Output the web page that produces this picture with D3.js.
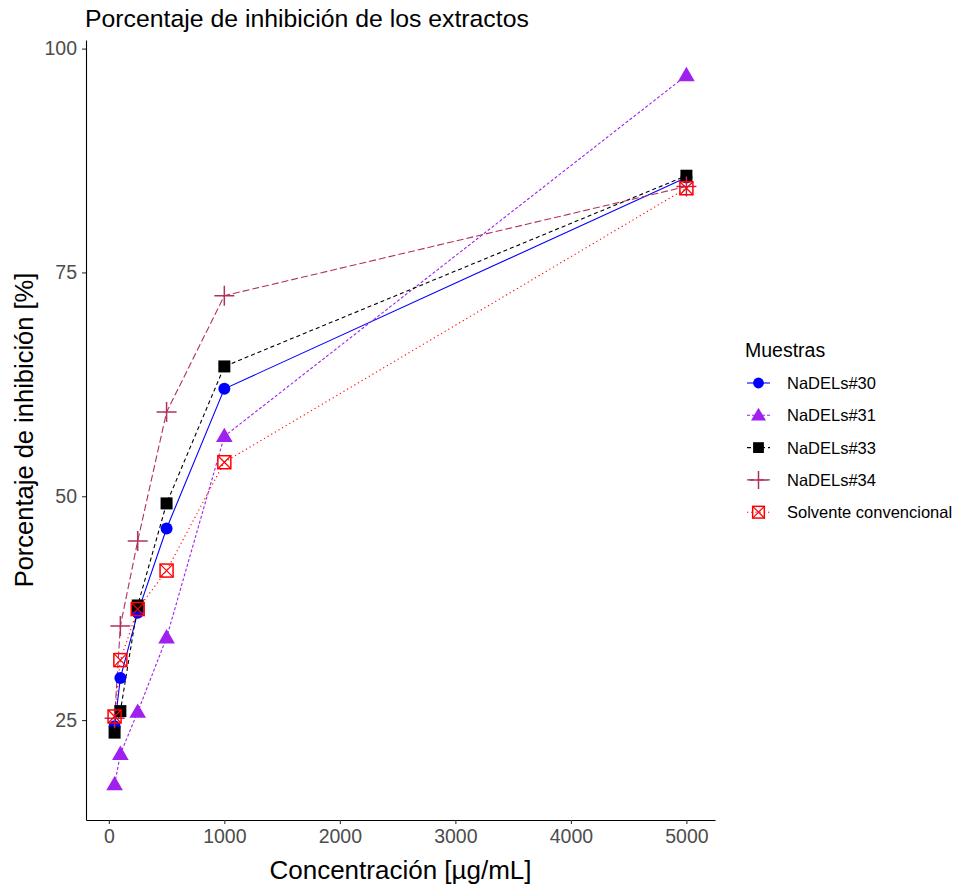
<!DOCTYPE html>
<html>
<head>
<meta charset="utf-8">
<script src="https://cdn.jsdelivr.net/npm/d3@7"></script>
<style>
  body { margin: 0; background: #fff; }
  text { font-family: "Liberation Sans", Arial, sans-serif; }
</style>
</head>
<body>
<div id="chart"></div>
<script>
// data
const concentrations = [50, 100, 250, 500, 1000, 5000];
const seriesNames = ["NaDELs#30", "NaDELs#31", "NaDELs#33", "NaDELs#34", "Solvente convencional"];
const nadels30 = [24.3, 29.7, 37.0, 46.4, 62.0, 85.6];
const nadels31 = [17.8, 21.2, 25.9, 34.2, 56.7, 97.0];
const nadels33 = [23.6, 26.0, 37.8, 49.2, 64.5, 85.8];
const nadels34 = [25.2, 35.5, 45.0, 59.4, 72.4, 84.6];
const solvente = [25.4, 31.7, 37.4, 41.7, 53.8, 84.4];
const xTicks = [0, 1000, 2000, 3000, 4000, 5000];
const yTicks = [25, 50, 75, 100];

const allValues = [nadels30, nadels31, nadels33, nadels34, solvente];
const colours = ["#0000FF", "#A020F0", "#000000", "#B03060", "#FF0000"];
const dashes = [null, "3,2", "4,3", "7,3", "1.2,3"];
const shapes = ["circle", "triangle", "square", "plus", "squarecross"];

const width = 958, height = 886;
const margin = {top: 40, right: 243, bottom: 66, left: 86};
const innerW = width - margin.left - margin.right;
const innerH = height - margin.top - margin.bottom;

const svg = d3.select("#chart").append("svg")
    .attr("width", width)
    .attr("height", height);

// ggplot-style 5% expansion
const xExt = d3.extent(concentrations);
const xPad = (xExt[1] - xExt[0]) * 0.05;
const flat = allValues.flat();
const yExt = d3.extent(flat);
const yPad = (yExt[1] - yExt[0]) * 0.05;

const x = d3.scaleLinear()
    .domain([xExt[0] - xPad, xExt[1] + xPad])
    .range([0, innerW]);
const y = d3.scaleLinear()
    .domain([yExt[0] - yPad, yExt[1] + yPad])
    .range([innerH, 0]);

const g = svg.append("g")
    .attr("transform", "translate(" + margin.left + "," + margin.top + ")");

// axes
const xAxis = g.append("g")
    .attr("transform", "translate(0," + innerH + ")")
    .call(d3.axisBottom(x).tickValues(xTicks).tickSize(4).tickSizeOuter(0).tickPadding(5).tickFormat(d3.format("d")));
const yAxis = g.append("g")
    .call(d3.axisLeft(y).tickValues(yTicks).tickSize(4).tickSizeOuter(0).tickPadding(5));

[xAxis, yAxis].forEach(ax => {
  ax.select(".domain").attr("stroke", "#000").attr("stroke-width", 1.1);
  ax.selectAll(".tick line").attr("stroke", "#333").attr("stroke-width", 1.1);
  ax.selectAll(".tick text")
    .attr("fill", "#4D4D4D")
    .style("font-size", "19.5px")
    .style("font-family", "'Liberation Sans', Arial, sans-serif");
});

// lines
const line = d3.line()
    .x((d, i) => x(concentrations[i]))
    .y(d => y(d));

allValues.forEach((vals, s) => {
  g.append("path")
    .datum(vals)
    .attr("fill", "none")
    .attr("stroke", colours[s])
    .attr("stroke-width", 1.1)
    .attr("stroke-dasharray", dashes[s])
    .attr("d", line);
});

function drawShape(sel, shape, colour, cx, cy, scale) {
  scale = scale || 1;
  if (shape === "circle") {
    sel.append("circle").attr("cx", cx).attr("cy", cy).attr("r", 6 * scale).attr("fill", colour);
  } else if (shape === "triangle") {
    sel.append("path")
      .attr("transform", "translate(" + cx + "," + (cy + 1) + ")")
      .attr("d", d3.symbol(d3.symbolTriangle, 120 * scale * scale)())
      .attr("fill", colour);
  } else if (shape === "square") {
    const s = 12 * scale;
    sel.append("rect").attr("x", cx - s / 2).attr("y", cy - s / 2)
      .attr("width", s).attr("height", s).attr("fill", colour);
  } else if (shape === "plus") {
    const h = 10 * scale;
    sel.append("path")
      .attr("d", "M" + (cx - h) + "," + cy + "H" + (cx + h) + "M" + cx + "," + (cy - h) + "V" + (cy + h))
      .attr("stroke", colour).attr("stroke-width", 1.5).attr("fill", "none");
  } else if (shape === "squarecross") {
    const h = 6.5 * scale;
    sel.append("rect").attr("x", cx - h).attr("y", cy - h)
      .attr("width", 2 * h).attr("height", 2 * h)
      .attr("fill", "none").attr("stroke", colour).attr("stroke-width", 1.5);
    sel.append("path")
      .attr("d", "M" + (cx - h) + "," + (cy - h) + "L" + (cx + h) + "," + (cy + h) +
                 "M" + (cx + h) + "," + (cy - h) + "L" + (cx - h) + "," + (cy + h))
      .attr("stroke", colour).attr("stroke-width", 1.2).attr("fill", "none");
  }
}

// points
allValues.forEach((vals, s) => {
  const pg = g.append("g");
  vals.forEach((v, i) => drawShape(pg, shapes[s], colours[s], x(concentrations[i]), y(v)));
});

// titles
svg.append("text")
  .attr("x", margin.left - 1)
  .attr("y", 27)
  .style("font-size", "24.8px")
  .attr("fill", "#000")
  .text("Porcentaje de inhibición de los extractos");

svg.append("text")
  .attr("x", margin.left + innerW / 2)
  .attr("y", 879)
  .attr("text-anchor", "middle")
  .style("font-size", "26px")
  .text("Concentración [µg/mL]");

svg.append("text")
  .attr("transform", "translate(33," + (margin.top + innerH / 2) + ") rotate(-90)")
  .attr("text-anchor", "middle")
  .style("font-size", "25.5px")
  .text("Porcentaje de inhibición [%]");

// legend
const legend = svg.append("g").attr("transform", "translate(745,357)");
legend.append("text")
  .attr("x", 0).attr("y", 0)
  .style("font-size", "19.5px")
  .text("Muestras");

seriesNames.forEach((name, s) => {
  const ly = 26 + s * 32.3;
  const row = legend.append("g");
  row.append("line")
    .attr("x1", 2).attr("x2", 25).attr("y1", ly).attr("y2", ly)
    .attr("stroke", colours[s]).attr("stroke-width", 1.1)
    .attr("stroke-dasharray", dashes[s]);
  drawShape(row, shapes[s], colours[s], 13.5, ly, 0.9);
  row.append("text")
    .attr("x", 42).attr("y", ly + 6)
    .style("font-size", "16.5px")
    .text(name);
});
</script>
</body>
</html>
